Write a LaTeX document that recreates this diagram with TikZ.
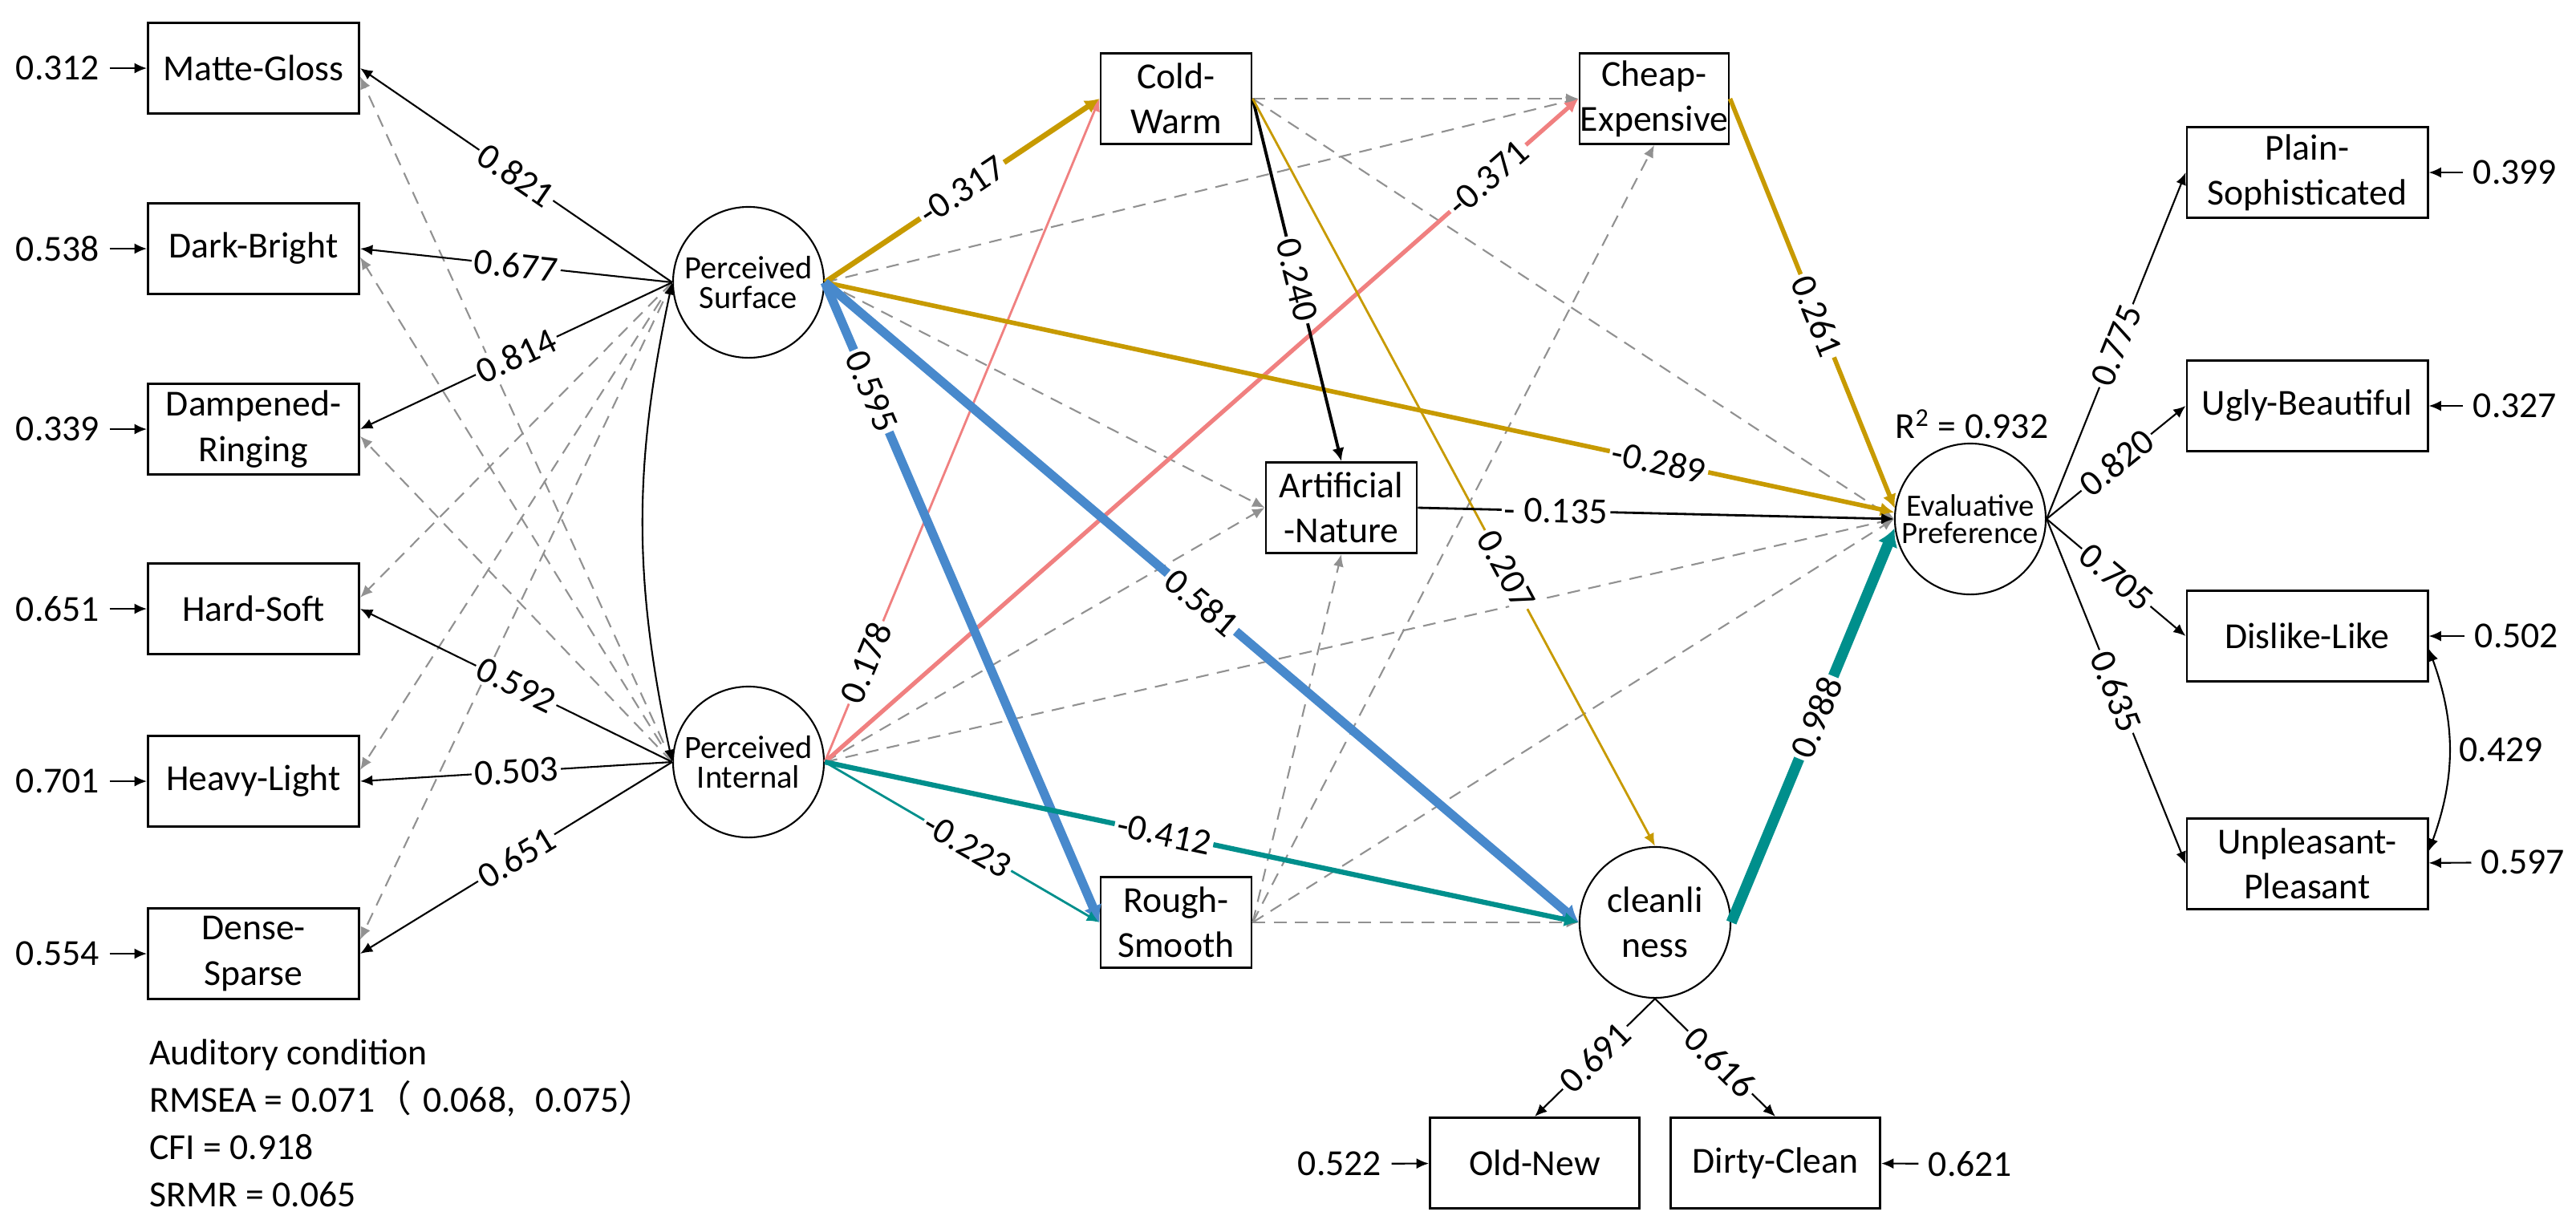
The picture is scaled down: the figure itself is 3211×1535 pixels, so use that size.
\documentclass[tikz,border=0pt]{standalone}
\usepackage{fontspec}
\setmainfont{Carlito}
\newfontfamily\cjk{Noto Sans CJK SC}
\usepackage{tikz}
\usetikzlibrary{arrows,arrows.meta}
\usetikzlibrary{shapes.geometric,fit}
\usetikzlibrary{positioning}

\definecolor{gold}{RGB}{199,154,0}
\definecolor{sky}{RGB}{72,137,204}
\definecolor{salmon}{RGB}{240,128,128}
\definecolor{sea}{RGB}{0,143,140}
\definecolor{midgray}{RGB}{145,145,145}

\tikzset{
	obs/.style={draw, line width=0.8pt, minimum height=1.13cm, align=center, inner xsep=1pt, inner ysep=1pt},
	lat/.style={draw, circle, line width=0.6pt, minimum size=1.88cm, inner sep=0pt, align=center},
	arr/.style={-{Latex[length=4pt 0.6, width=3pt 1.2]}, line width=0.6pt},
	both/.style={{Latex[length=4pt 0.6, width=3pt 1.2]}-{Latex[length=4pt 0.6, width=3pt 1.2]}, line width=0.6pt},
	cross/.style={arr, midgray, dash pattern=on 4.5pt off 3pt},
	lbl/.style={sloped, fill=white, text=black, inner sep=1pt}
}

\begin{document}
\begin{tikzpicture}[x=0.01cm,y=-0.01cm,font=\fontsize{13}{16}\selectfont]
	\useasboundingbox (0,0) rectangle (3211,1535);
	% sound indicators
	\node[obs,minimum width=2.63cm] (mg) at (316,85) {Matte-Gloss};
	\node[obs,minimum width=2.63cm] (db) at (316,310) {Dark-Bright};
	\node[obs,minimum width=2.63cm] (dr) at (316,535) {Dampened-\\Ringing};
	\node[obs,minimum width=2.63cm] (hs) at (316,759) {Hard-Soft};
	\node[obs,minimum width=2.63cm] (hl) at (316,974) {Heavy-Light};
	\node[obs,minimum width=2.63cm] (ds) at (316,1189) {Dense-\\Sparse};
	\node (mge) at (72,85) {0.312};
	\node (dbe) at (72,310) {0.538};
	\node (dre) at (72,535) {0.339};
	\node (hse) at (72,759) {0.651};
	\node (hle) at (72,974) {0.701};
	\node (dse) at (72,1189) {0.554};

	% latent factors
	\node[lat,font=\fontsize{11.5}{10.5}\selectfont] (ps) at (933,352) {Perceived\\Surface};
	\node[lat,font=\fontsize{11.5}{10.5}\selectfont] (pi) at (933,950) {Perceived\\Internal};
	\node[lat] (cl) at (2063,1150) {cleanli\\ness};
	\node[lat,font=\fontsize{11}{9.5}\selectfont] (ev) at (2456,647) {Evaluative\\Preference};
	\node (r2) at (2458,529) {R\textsuperscript{2} = 0.932};

	% mediators
	\node[obs,minimum width=1.88cm] (cw) at (1466,123) {Cold-\\Warm};
	\node[obs,minimum width=1.86cm,inner xsep=0pt] (ce) at (2062,123) {Cheap-\\Expensive};
	\node[obs,minimum width=1.88cm] (an) at (1672,633) {Artificial\\-Nature};
	\node[obs,minimum width=1.88cm] (rs) at (1466,1150) {Rough-\\Smooth};

	% cleanliness indicators
	\node[obs,minimum width=2.61cm] (on) at (1913,1450) {Old-New};
	\node[obs,minimum width=2.61cm] (dc) at (2213,1450) {Dirty-Clean};
	\node (one) at (1670,1451) {0.522};
	\node (dce) at (2456,1451) {0.621};

	% preference indicators
	\node[obs,minimum width=3cm] (pl) at (2876,215) {Plain-\\Sophisticated};
	\node[obs,minimum width=3cm] (ub) at (2876,506) {Ugly-Beautiful};
	\node[obs,minimum width=3cm] (dl) at (2876,793) {Dislike-Like};
	\node[obs,minimum width=3cm] (up) at (2876,1077) {Unpleasant-\\Pleasant};
	\node (ple) at (3135,215) {0.399};
	\node (ube) at (3135,506) {0.327};
	\node (dle) at (3137,793) {0.502};
	\node (upe) at (3145,1075) {0.597};

	\node[anchor=west,align=left,font=\fontsize{13}{16.8}\selectfont] (fitinfo) at (174,1400) {Auditory condition\\RMSEA = 0.071{\cjk （}\hspace{4pt}0.068,\hspace{7pt}0.075{\cjk ）}\\CFI = 0.918\\SRMR = 0.065};

	% non-significant paths
	\draw[cross] (ps.west) -- ([yshift=4pt]hs.east);
	\draw[cross] (ps.west) -- ([yshift=4pt]hl.east);
	\draw[cross] (ps.west) -- ([yshift=5pt]ds.east);
	\draw[cross] (pi.west) -- ([yshift=-3pt]mg.east);
	\draw[cross] (pi.west) -- ([yshift=-3pt]db.east);
	\draw[cross] (pi.west) -- ([yshift=-2.5pt]dr.east);
	\draw[cross] (ps.east) -- (ce.west);
	\draw[cross] (ps.east) -- (an.west);
	\draw[cross] (pi.east) -- (an.west);
	\draw[cross] (pi.east) -- (ev.west);
	\draw[cross] (cw.east) -- (ce.west);
	\draw[cross] (cw.east) -- (ev.west);
	\draw[cross] (rs.east) -- (an.south);
	\draw[cross] (rs.east) -- (ce.south);
	\draw[cross] (rs.east) -- (ev.west);
	\draw[cross] (rs.east) -- (cl.west);

	% loadings
	\draw[arr] (ps.west) -- node[lbl] {0.821} (mg.east);
	\draw[arr] (ps.west) -- node[lbl] {0.677} (db.east);
	\draw[arr] (ps.west) -- node[lbl] {0.814} (dr.east);
	\draw[arr] (pi.west) -- node[lbl] {0.592} (hs.east);
	\draw[arr] (pi.west) -- node[lbl] {0.503} (hl.east);
	\draw[arr] (pi.west) -- node[lbl] {0.651} (ds.east);
	\draw[both] (ps.west) to[bend right=12] (pi.west);

	% significant paths
	\draw[arr,salmon,line width=0.8pt] (pi.east) -- node[lbl,pos=0.15] {0.178} (cw.west);
	\draw[arr,salmon,line width=1.5pt] (pi.east) -- node[lbl,pos=0.88] {-0.371} (ce.west);
	\draw[arr,gold,line width=1.9pt] (ps.east) -- node[lbl] {-0.317} (cw.west);
	\draw[arr,gold,line width=1.6pt] (ps.east) -- node[lbl,pos=0.78] {-0.289} (ev.175);
	\draw[arr,sky,line width=3.2pt] (ps.east) -- node[lbl,pos=0.17] {0.595} (rs.west);
	\draw[arr,sky,line width=3.2pt] (ps.east) -- node[lbl] {0.581} (cl.west);
	\draw[arr,sea,line width=0.8pt] (pi.east) -- node[lbl,pos=0.52] {-0.223} (rs.west);
	\draw[arr,sea,line width=1.8pt] (pi.east) -- node[lbl,pos=0.45] {-0.412} (cl.west);
	\draw[arr,line width=1.1pt] (cw.east) -- node[lbl] {0.240} (an.north);
	\draw[arr,gold,line width=0.8pt] (cw.east) -- node[lbl,pos=0.63] {0.207} (cl.north);
	\draw[arr,line width=0.8pt] (an.east) -- node[lbl,pos=0.29] {- 0.135} (ev.west);
	\draw[arr,gold,line width=1.6pt] (ce.east) -- node[lbl,pos=0.53] {0.261} (ev.172);
	\draw[arr,sea,line width=3.8pt] (cl.east) -- node[lbl,pos=0.52] {0.988} (ev.187);

	% outcome loadings
	\draw[arr] (ev.east) -- node[lbl] {0.775} (pl.west);
	\draw[arr] (ev.east) -- node[lbl] {0.820} (ub.west);
	\draw[arr] (ev.east) -- node[lbl] {0.705} (dl.west);
	\draw[arr] (ev.east) -- node[lbl] {0.635} (up.west);
	\draw[arr] (cl.south) -- node[lbl] {0.691} (on.north);
	\draw[arr] (cl.south) -- node[lbl,pos=0.54] {0.616} (dc.north);
	\draw[both] (dl.-6) to[bend left=20] node[right] {0.429} (up.6);

	% residuals
	\draw[arr] (mge) -- (mg);
	\draw[arr] (dbe) -- (db);
	\draw[arr] (dre) -- (dr);
	\draw[arr] (hse) -- (hs);
	\draw[arr] (hle) -- (hl);
	\draw[arr] (dse) -- (ds);
	\draw[arr] (one) -- (on);
	\draw[arr] (dce) -- (dc);
	\draw[arr] (ple) -- (pl);
	\draw[arr] (ube) -- (ub);
	\draw[arr] (dle) -- (dl);
	\draw[arr] (upe) -- (up);
\end{tikzpicture}
\end{document}
